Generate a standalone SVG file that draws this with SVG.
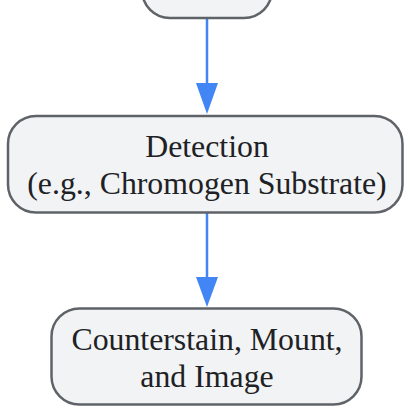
<svg xmlns="http://www.w3.org/2000/svg" width="404" height="406" viewBox="0 0 404 406">
<defs>
<style>
.node rect{fill:#f1f3f4;stroke:#5f6368;stroke-width:2.5}
.node text{font-family:"Liberation Serif","Times New Roman",serif;font-size:31.8px;fill:#202124;text-anchor:middle}
.edge{stroke:#4285f4;stroke-width:2.5;fill:none}
.head{fill:#4285f4}
</style>
</defs>
<g id="connectors">
<line class="edge" x1="207" y1="19" x2="207" y2="84"/>
<polygon class="head" points="196,83 218,83 207,114"/>
<line class="edge" x1="207" y1="213" x2="207" y2="278"/>
<polygon class="head" points="196,277 218,277 207,307"/>
</g>
<g id="node-top" class="node">
<rect x="142" y="-80" width="130" height="98" rx="28" ry="28"/>
</g>
<g id="node-detection" class="node">
<rect x="8" y="116" width="394.5" height="96.5" rx="28" ry="28"/>
<text x="207" y="157">Detection</text>
<text x="207" y="194">(e.g., Chromogen Substrate)</text>
</g>
<g id="node-counterstain" class="node">
<rect x="51.5" y="308.5" width="310" height="96" rx="28" ry="28"/>
<text x="207" y="350">Counterstain, Mount,</text>
<text x="207" y="387">and Image</text>
</g>
</svg>
